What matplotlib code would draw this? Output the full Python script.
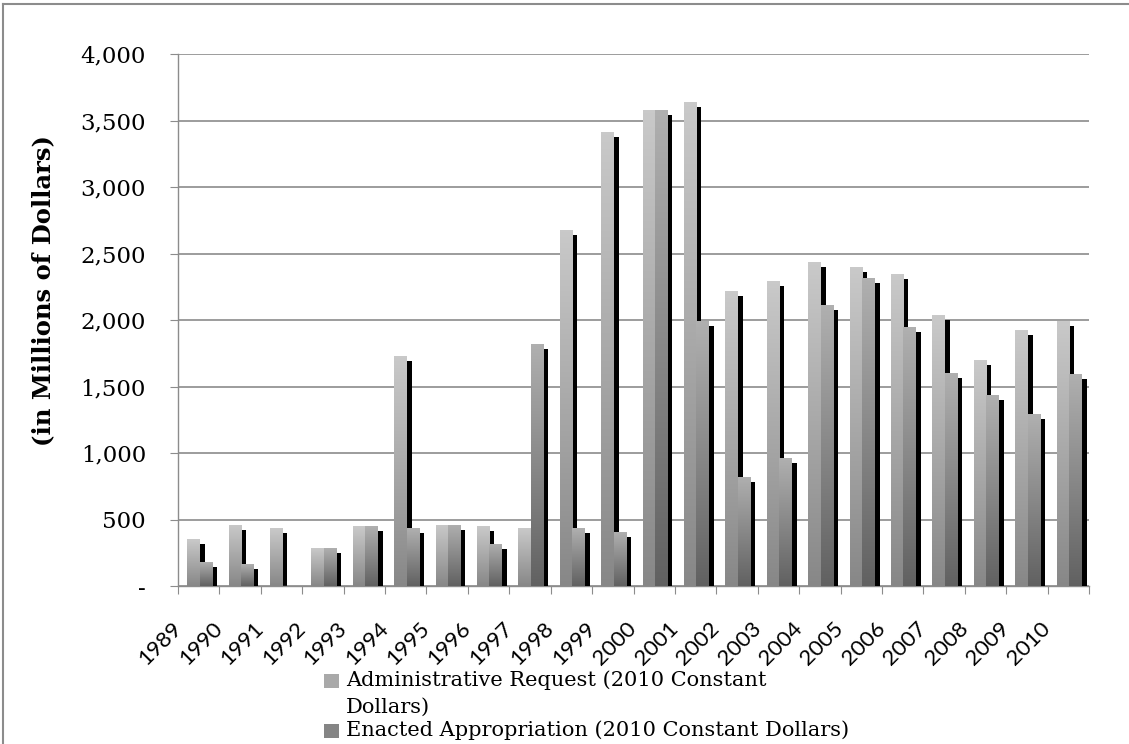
import numpy as np
import matplotlib
matplotlib.use('Agg')
import matplotlib.pyplot as plt
import matplotlib.patheffects as pe
from matplotlib.patches import Rectangle
from matplotlib.lines import Line2D
from matplotlib.ticker import FuncFormatter

# values (millions of 2010 dollars)
years = [1989, 1990, 1991, 1992, 1993, 1994, 1995, 1996, 1997, 1998, 1999,
         2000, 2001, 2002, 2003, 2004, 2005, 2006, 2007, 2008, 2009, 2010]
admin_request = [353, 459, 436, 285, 451, 1729, 459, 451, 436, 2677, 3414,
                 3579, 3639, 2218, 2293, 2436, 2399, 2346, 2038, 1699, 1925, 1993]
enacted = [180, 165, 0, 285, 451, 436, 459, 316, 1822, 436, 406,
           3579, 1995, 820, 962, 2113, 2316, 1947, 1602, 1436, 1293, 1594]
yticks = [0, 500, 1000, 1500, 2000, 2500, 3000, 3500, 4000]

W, H = 1129, 744
fig = plt.figure(figsize=(W / 100, H / 100), dpi=100)
ax = fig.add_axes([178 / W, 1 - 586 / H, 911 / W, 532 / H])

x = np.arange(len(years))
bw = 0.30
shadow = [pe.SimplePatchShadow(offset=(3.6, -3.6), shadow_rgbFace='black', alpha=1.0),
          pe.Normal()]


def grad_bars(vals, left, top_col, bot_col, z):
    bars = ax.bar(x + left, vals, width=bw, align='edge', color='#999999',
                  linewidth=0, zorder=z)
    g = np.linspace(np.array(top_col), np.array(bot_col), 256).reshape(256, 1, 3)
    for p in bars:
        p.set_path_effects(shadow)
        h = p.get_height()
        if h <= 0:
            continue
        im = ax.imshow(g, extent=[p.get_x(), p.get_x() + p.get_width(), 0, h],
                       origin='upper', aspect='auto', zorder=z + 0.5,
                       interpolation='bilinear')
        im.set_clip_path(p)
    return bars


grad_bars(admin_request, 0.22, (0.79, 0.79, 0.79), (0.53, 0.53, 0.53), 2)
grad_bars(enacted, 0.52, (0.69, 0.69, 0.69), (0.38, 0.38, 0.38), 3)

ax.set_xlim(0, len(years))
ax.set_ylim(0, 4000)
ax.set_yticks(yticks)
ax.yaxis.set_major_formatter(FuncFormatter(lambda v, _: '-' if v == 0 else f'{int(v):,}'))
ax.grid(axis='y', color='#9c9c9c', linewidth=1.4)
ax.set_axisbelow(True)

ax.set_xticks(np.arange(len(years) + 1))
ax.set_xticklabels([str(y) for y in years] + [''])

for s in ['top', 'right']:
    ax.spines[s].set_visible(False)
for s in ['left', 'bottom']:
    ax.spines[s].set_color('#8c8c8c')
    ax.spines[s].set_linewidth(1.0)

ax.tick_params(axis='y', length=6, color='#8c8c8c', pad=17, labelsize=16.5)
ax.tick_params(axis='x', length=6, color='#8c8c8c', pad=22, labelsize=16)
for t in ax.get_yticklabels():
    t.set_fontfamily('DejaVu Serif')
for t in ax.get_xticklabels():
    t.set_fontfamily('Lato')
    t.set_rotation(45)
    t.set_ha('right')
    t.set_va('center')
    t.set_rotation_mode('anchor')

ax.set_ylabel('(in Millions of Dollars)', fontsize=17.5, fontweight='bold',
              family='DejaVu Serif')
ax.yaxis.set_label_coords(-0.135, 0.556)

# legend, drawn by hand below the axis labels
leg_items = [('Administrative Request (2010 Constant\nDollars)', '#a9a9a9', 681),
             ('Enacted Appropriation (2010 Constant Dollars)', '#858585', 731)]
for label, col, yp in leg_items:
    fig.patches.append(Rectangle((324 / W, 1 - (yp + 7) / H), 15 / W, 14 / H,
                                 transform=fig.transFigure, facecolor=col,
                                 edgecolor='none'))
    fig.text(346 / W, 1 - (yp - 11) / H, label, fontsize=15, family='DejaVu Serif',
             va='top', ha='left', linespacing=1.55)

# chart area border
fig.lines.append(Line2D([3 / W, 1], [1 - 4 / H, 1 - 4 / H], transform=fig.transFigure,
                        color='#8c8c8c', linewidth=1.5))
fig.lines.append(Line2D([3 / W, 3 / W], [0, 1 - 4 / H], transform=fig.transFigure,
                        color='#8c8c8c', linewidth=1.5))

fig.savefig('out.png', dpi=100)
